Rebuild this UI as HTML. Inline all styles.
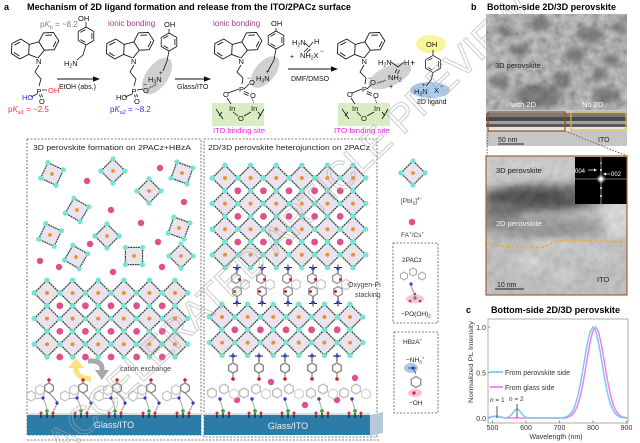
<!DOCTYPE html>
<html><head><meta charset="utf-8"><style>
html,body{margin:0;padding:0;background:#fff;}
svg{display:block;}
</style></head><body>
<svg width="640" height="443" viewBox="0 0 640 443" xmlns="http://www.w3.org/2000/svg">
<style>
text{font-family:"Liberation Sans",Arial,sans-serif;}
.h{paint-order:stroke;stroke:#fff;stroke-width:2.2px;stroke-linejoin:round;}
.c{font-size:7.5px;fill:#111;}
.ln{fill:none;stroke:#111;stroke-width:0.8;}
</style>
<defs>
 <filter id="bl3" x="-50%" y="-50%" width="200%" height="200%"><feGaussianBlur stdDeviation="3"/></filter>
 <filter id="bl5" x="-50%" y="-50%" width="200%" height="200%"><feGaussianBlur stdDeviation="5"/></filter>
 <filter id="bl1" x="-100%" y="-100%" width="300%" height="300%"><feGaussianBlur stdDeviation="1.2"/></filter>
 <filter id="nz" filterUnits="userSpaceOnUse" x="486" y="14" width="141" height="281"><feTurbulence type="fractalNoise" baseFrequency="0.13" numOctaves="2" seed="5"/><feColorMatrix type="matrix" values="1 0 0 0 0  1 0 0 0 0  1 0 0 0 0  0 0 0 0 1"/></filter>
 <clipPath id="cpT"><rect x="486" y="14" width="141" height="132"/></clipPath>
 <clipPath id="cpB"><rect x="486" y="156" width="141" height="139"/></clipPath>
 <g id="cbz" fill="none" stroke="#111" stroke-width="0.7">
  <path d="M0,0 L-6.47,-4.7 L-4,-12.3 L4,-12.3 L6.47,-4.7 Z"/>
  <path d="M-6.47,-4.7 L-14.29,-3.03 L-19.65,-8.96 L-17.19,-16.58 L-9.37,-18.25 L-4,-12.3"/>
  <path d="M6.47,-4.7 L14.29,-3.03 L19.65,-8.96 L17.19,-16.58 L9.37,-18.25 L4,-12.3"/>
  <path d="M-13.9,-5.3 L-17.4,-9.2 M-15.6,-14.9 L-10.4,-16"/>
  <path d="M13.9,-5.3 L17.4,-9.2 M15.6,-14.9 L10.4,-16"/>
 </g>
 <g id="bz" fill="none" stroke="#111" stroke-width="0.8">
  <polygon points="0,-9 7.8,-4.5 7.8,4.5 0,9 -7.8,4.5 -7.8,-4.5"/>
  <path d="M5.9,-3 L5.9,3 M-5.5,-3.6 L-0.6,-6.4 M-0.6,6.4 L-5.5,3.6"/>
 </g>
 <polygon id="hx" points="0,-5 4.33,-2.5 4.33,2.5 0,5 -4.33,2.5 -4.33,-2.5"/>
 <g id="oct">
  <polygon points="0,-12.8 12.8,0 0,12.8 -12.8,0" fill="#ebe2f0" stroke="#2e4d2e" stroke-width="1.3" stroke-dasharray="2 0.7"/>
  <circle cx="0" cy="-12.8" r="2.7" fill="#74e4d4"/>
  <circle cx="12.8" cy="0" r="2.7" fill="#74e4d4"/>
  <circle cx="0" cy="12.8" r="2.7" fill="#74e4d4"/>
  <circle cx="-12.8" cy="0" r="2.7" fill="#74e4d4"/>
  <circle cx="0" cy="0" r="2" fill="#ea9428"/>
 </g>
 <g id="mL">
  <use href="#hx" x="-16" y="-17" fill="none" stroke="#c4c4c4" stroke-width="1.2"/>
  <use href="#hx" x="-7" y="-23" fill="none" stroke="#c4c4c4" stroke-width="1.2"/>
  <path d="M-11.7,-14.5 L-4,-15 L-2.7,-20.5 M-4,-15 L-1,-8 L0,-3" fill="none" stroke="#b0b0b0" stroke-width="1.1"/>
  <use href="#hx" x="2" y="-25" fill="none" stroke="#8c8c8c" stroke-width="1.4"/>
  <path d="M2,-30 L2,-32 M2,-20 L7,-15 L10,-11" fill="none" stroke="#8c8c8c" stroke-width="1.2"/>
  <circle cx="2" cy="-33" r="1.7" fill="#d42020"/>
  <circle cx="-4" cy="-15" r="1.6" fill="#2f3fd8"/>
  <circle cx="10" cy="-10" r="1.6" fill="#2f3fd8"/>
  <path d="M10,-9 L6,-1" stroke="#111" stroke-width="0.9" stroke-dasharray="1 1"/>
  <path d="M-6,0 V5 M0,0 V5 M6,0 V5" stroke="#222" stroke-width="1.3"/>
  <circle cx="0" cy="-2" r="1.8" fill="#3aa83a"/>
  <circle cx="-6" cy="0" r="1.5" fill="#e03030"/>
  <circle cx="6" cy="0" r="1.5" fill="#e03030"/>
 </g>
 <g id="mR">
  <use href="#hx" x="-11" y="-20" fill="none" stroke="#bdbdbd" stroke-width="1.3"/>
  <use href="#hx" x="1" y="-24" fill="none" stroke="#bdbdbd" stroke-width="1.3"/>
  <use href="#hx" x="11" y="-19" fill="none" stroke="#cfcfcf" stroke-width="1.1"/>
  <path d="M-3,-13 L0,-3" stroke="#b0b0b0" stroke-width="1.2"/>
  <circle cx="-3" cy="-14" r="1.7" fill="#2f3fd8"/>
  <path d="M-6,0 V5 M0,0 V5 M6,0 V5" stroke="#222" stroke-width="1.3"/>
  <circle cx="0" cy="-2" r="1.9" fill="#3aa83a"/>
  <circle cx="-6" cy="0" r="1.5" fill="#e03030"/>
  <circle cx="6" cy="0" r="1.5" fill="#e03030"/>
 </g>
 <g id="mS">
  <path d="M-4,-18 H4 M0,-18 V-21 M0,-16 V-12" stroke="#222" stroke-width="0.9"/>
  <use href="#hx" x="-1" y="-7" fill="none" stroke="#999" stroke-width="1.4"/>
  <use href="#hx" x="0" y="6" fill="none" stroke="#999" stroke-width="1.4"/>
  <use href="#hx" x="8" y="-1" fill="none" stroke="#c6c6c6" stroke-width="1.2"/>
  <circle cx="2.5" cy="-6" r="1.5" fill="#d42020"/>
  <circle cx="-2.5" cy="6" r="1.5" fill="#d42020"/>
  <path d="M-4,18 H4 M0,18 V21 M0,16 V11" stroke="#222" stroke-width="0.9"/>
  <circle cx="0" cy="-17" r="1.8" fill="#2f3fd8"/>
  <circle cx="0" cy="17" r="1.8" fill="#2f3fd8"/>
 </g>
 <g id="mH">
  <path d="M-4,0 H4 M0,0 V-3 M0,2 V6" stroke="#222" stroke-width="0.9"/>
  <use href="#hx" x="0" y="12" fill="none" stroke="#8c8c8c" stroke-width="1.5"/>
  <path d="M0,17 V22" stroke="#8c8c8c" stroke-width="1.2"/>
  <circle cx="0" cy="0" r="1.8" fill="#2f3fd8"/>
  <circle cx="0" cy="23" r="1.8" fill="#d42020"/>
 </g>
</defs>

<!-- ===== Titles ===== -->
<text x="4" y="10" font-size="9" font-weight="bold">a</text>
<text x="27" y="10" font-size="9" font-weight="bold" textLength="324" lengthAdjust="spacingAndGlyphs">Mechanism of 2D ligand formation and release from the ITO/2PACz surface</text>
<text x="471" y="10" font-size="9" font-weight="bold">b</text>
<text x="487" y="10" font-size="9" font-weight="bold" textLength="129" lengthAdjust="spacingAndGlyphs">Bottom-side 2D/3D perovskite</text>

<!-- ===== Chemistry: molecule 1 ===== -->
<use href="#cbz" transform="translate(38,58) rotate(-15) scale(1.25)"/>
<text x="36" y="64" class="c h">N</text>
<path class="ln" d="M39,65 L35,72 L41,79 L39,86 M42,90 L47,90 M37,94 L31,97 M39.5,94.5 L40.5,97.5 M41.5,94 L42.5,97"/>
<text x="36.5" y="94" class="c">P</text>
<text x="48" y="93" class="c" style="fill:#f03030">OH</text>
<text x="22" y="100" class="c" style="fill:#3030e0">HO</text>
<text x="39" y="104" class="c">O</text>
<text x="8" y="112" font-size="8" fill="#f33">p<tspan font-style="italic">K</tspan><tspan font-size="5.5" dy="2">a1</tspan><tspan dy="-2"> = ~2.5</tspan></text>
<text x="40" y="27" font-size="8" fill="#808080">p<tspan font-style="italic">K</tspan><tspan font-size="5.5" dy="2">b</tspan><tspan dy="-2"> = ~8.2</tspan></text>
<use href="#bz" x="86" y="36"/>
<path class="ln" d="M86,27 L86,22 M86,45 L83,55 L77,60"/>
<text x="78" y="21" class="c">OH</text>
<text x="64" y="66" class="c">H<tspan font-size="5" dy="1.5">2</tspan><tspan dy="-1.5">N</tspan></text>
<path d="M57,79 L95,79" stroke="#111" stroke-width="0.9"/>
<polygon points="100,79 93,76.3 93,81.7" fill="#111"/>
<text x="59" y="89" font-size="7" fill="#111">EtOH (abs.)</text>

<!-- molecule 2 -->
<ellipse cx="157" cy="76" rx="21" ry="11" transform="rotate(-55 157 76)" fill="#d0d0d0"/>
<text x="108" y="26" font-size="8" fill="#9b3c8c">ionic bonding</text>
<use href="#cbz" transform="translate(133,58) rotate(-15) scale(1.25)"/>
<text x="131" y="64" class="c h">N</text>
<path class="ln" d="M134,65 L130,72 L136,79 L134,86 M137,90 L143,89 M132,94 L125,97 M134.5,94.5 L135.5,97.5 M136.5,94 L137.5,97"/>
<text x="131.5" y="94" class="c">P</text>
<text x="143" y="93" class="c">O</text>
<text x="143" y="87" font-size="7">−</text>
<path d="M149,89 l1.5,-2.5 l1.5,1 l1.5,-2.5 l1.5,1 l1.5,-2.5" fill="none" stroke="#555" stroke-width="0.7"/>
<text x="116" y="100" class="c">HO</text>
<text x="134" y="104" class="c">O</text>
<use href="#bz" x="169" y="42"/>
<path class="ln" d="M169,33 L169,29 M169,51 L167,61 L163,71"/>
<text x="164" y="27" class="c">OH</text>
<text x="148" y="82" class="c">H<tspan font-size="5" dy="1.5">3</tspan><tspan dy="-1.5">N</tspan></text>
<text x="159" y="75" font-size="6">+</text>
<text x="110" y="112" font-size="8" fill="#3333ff">p<tspan font-style="italic">K</tspan><tspan font-size="5.5" dy="2">a2</tspan><tspan dy="-2"> = ~8.2</tspan></text>
<path d="M175,79 L206,79" stroke="#111" stroke-width="0.9"/>
<polygon points="211,79 204,76.3 204,81.7" fill="#111"/>
<text x="177" y="89" font-size="7" fill="#111">Glass/ITO</text>

<!-- molecule 3 -->
<rect x="212" y="103" width="52" height="23" fill="#d9edc4"/>
<ellipse cx="265" cy="72" rx="19" ry="10" transform="rotate(-50 265 72)" fill="#d0d0d0"/>
<text x="213" y="26" font-size="8" fill="#9b3c8c">ionic bonding</text>
<use href="#cbz" transform="translate(241,58) rotate(-15) scale(1.25)"/>
<text x="238.5" y="64" class="c h">N</text>
<path class="ln" d="M241,65 L237,72 L243,78 L242,84 M239,89 L228,93 M244,89 L249,84 M244,91.5 L249,93.5 M243.5,93.5 L248.5,95.5 M227,98 L231,104 M233,112 L238,116 M244,116 L251,112 M216,109 L223,119 M219,116 L222,112 M264,109 L258,119 M261,116 L258,112"/>
<path d="M252,98 L254,104" stroke="#111" stroke-width="0.8" stroke-dasharray="1 1"/>
<text x="239" y="92" class="c">P</text>
<text x="223" y="97" class="c">O</text>
<text x="250" y="98" class="c">O</text>
<text x="249" y="85" class="c">O</text>
<text x="247" y="80" font-size="6">−</text>
<text x="229" y="111" class="c">In</text>
<text x="251" y="111" class="c">In</text>
<text x="238" y="121" class="c">O</text>
<use href="#bz" x="276" y="40"/>
<path class="ln" d="M276,31 L276,28 M276,49 L274,60 L268,71"/>
<text x="271" y="26" class="c">OH</text>
<text x="256" y="81" class="c">H<tspan font-size="5" dy="1.5">3</tspan><tspan dy="-1.5">N</tspan></text>
<text x="266" y="74" font-size="6">+</text>
<text x="213" y="133" font-size="7" fill="#ee22ee" textLength="52" lengthAdjust="spacingAndGlyphs">ITO binding site</text>

<!-- arrow 3 + reagent -->
<text x="292" y="45" class="c">H<tspan font-size="5" dy="1.5">2</tspan><tspan dy="-1.5">N</tspan></text>
<text x="314" y="44" class="c">H</text>
<path class="ln" d="M305,43 L309,47 L313,42 M308,48 L304,52 M310.5,49 L306.5,53"/>
<text x="290" y="59" font-size="7">+</text>
<text x="300" y="58" class="c">NH<tspan font-size="5" dy="1.5">2</tspan><tspan dy="-1.5">X</tspan></text>
<text x="320" y="53" font-size="6">−</text>
<path d="M288,69 L333,69" stroke="#111" stroke-width="0.9"/>
<polygon points="338,69 331,66.3 331,71.7" fill="#111"/>
<text x="291" y="81" font-size="7" fill="#111">DMF/DMSO</text>

<!-- molecule 4 -->
<rect x="338" y="103" width="52" height="23" fill="#d9edc4"/>
<ellipse cx="390" cy="76" rx="23" ry="10" transform="rotate(-25 390 76)" fill="#d0d0d0"/>
<use href="#cbz" transform="translate(364,58) rotate(-15) scale(1.25)"/>
<text x="361.5" y="64" class="c h">N</text>
<path class="ln" d="M364,65 L360,72 L366,78 L365,84 M362,89 L352,93 M367,89 L371,85 M367,91.5 L372,93.5 M366.5,93.5 L371.5,95.5 M351,98 L355,104 M357,112 L361,116 M367,116 L374,112 M342,109 L349,119 M345,116 L348,112 M388,109 L382,119 M385,116 L382,112"/>
<path d="M375,98 L377,104" stroke="#111" stroke-width="0.8" stroke-dasharray="1 1"/>
<text x="362" y="92" class="c">P</text>
<text x="347" y="97" class="c">O</text>
<text x="373" y="98" class="c">O</text>
<text x="370" y="85" class="c">O</text>
<text x="368" y="80" font-size="6">−</text>
<text x="352" y="111" class="c">In</text>
<text x="374" y="111" class="c">In</text>
<text x="361" y="121" class="c">O</text>
<path d="M377,84 l1.5,-2 l1.5,1 l1.5,-2 l1.5,1 l1.5,-2 l1.5,1" fill="none" stroke="#555" stroke-width="0.7"/>
<text x="378" y="65" class="c">H<tspan font-size="5" dy="1.5">2</tspan><tspan dy="-1.5">N</tspan></text>
<text x="404" y="65" class="c">H</text>
<path class="ln" d="M391,62 L398,67 L404,62 M397,69 L395,73 M399.5,70 L397.5,74"/>
<text x="388" y="80" class="c">NH<tspan font-size="5" dy="1.5">2</tspan></text>
<text x="389" y="89" font-size="7">+</text>
<text x="334" y="133" font-size="7" fill="#ee22ee" textLength="56" lengthAdjust="spacingAndGlyphs">ITO binding site</text>

<!-- 2D ligand -->
<text x="410" y="66" font-size="9">+</text>
<ellipse cx="431" cy="44" rx="15" ry="9" fill="#fbf59a"/>
<ellipse cx="430" cy="90" rx="20" ry="8" fill="#a9cdf0"/>
<text x="426" y="47" class="c">OH</text>
<use href="#bz" transform="translate(433,64) scale(0.95)"/>
<path class="ln" d="M433,55 L433,50 M433,73 L431,80 L426,86"/>
<text x="414" y="94" class="c">H<tspan font-size="5" dy="1.5">3</tspan><tspan dy="-1.5">N</tspan></text>
<text x="422" y="87" font-size="6">+</text>
<text x="434" y="93" class="c">X</text>
<text x="440" y="88" font-size="6">−</text>
<text x="417" y="104" font-size="7" fill="#111">2D ligand</text>

<!-- ===== Lower panel a ===== -->
<rect x="27" y="139" width="174" height="296" fill="none" stroke="#555" stroke-width="0.8" stroke-dasharray="2 1.5"/>
<rect x="204" y="139" width="173" height="298" fill="none" stroke="#555" stroke-width="0.8" stroke-dasharray="2 1.5"/>
<path d="M27,440 H380" stroke="#555" stroke-width="0.8" stroke-dasharray="2 1.5"/>
<text x="33" y="150" font-size="7" fill="#222" textLength="158" lengthAdjust="spacingAndGlyphs">3D perovskite formation on 2PACz+HBzA</text>
<text x="208" y="150" font-size="7" fill="#222" textLength="162" lengthAdjust="spacingAndGlyphs">2D/3D perovskite heterojunction on 2PACz</text>

<!-- scattered octahedra -->
<use href="#oct" transform="translate(52,174) rotate(-20) scale(.95)"/>
<use href="#oct" transform="translate(113,171) scale(.95)"/>
<use href="#oct" transform="translate(182,173) rotate(-25) scale(.95)"/>
<use href="#oct" transform="translate(149,191) scale(.95)"/>
<use href="#oct" transform="translate(77,210) rotate(-15) scale(.95)"/>
<use href="#oct" transform="translate(50,235) rotate(-20) scale(.95)"/>
<use href="#oct" transform="translate(107,236) scale(.95)"/>
<use href="#oct" transform="translate(179,228) rotate(-25) scale(.95)"/>
<use href="#oct" transform="translate(76,257) rotate(-15) scale(.95)"/>
<use href="#oct" transform="translate(134,256) rotate(45) scale(.95)"/>
<use href="#oct" transform="translate(181,256) scale(.95)"/>
<g fill="#e0508a">
 <circle cx="87" cy="181" r="3.2"/><circle cx="160" cy="168" r="3.2"/><circle cx="184" cy="202" r="3.2"/>
 <circle cx="111" cy="210" r="3.2"/><circle cx="141" cy="223" r="3.2"/><circle cx="158" cy="242" r="3.2"/>
 <circle cx="90" cy="244" r="3.2"/><circle cx="40" cy="261" r="3.2"/><circle cx="59" cy="267" r="3.2"/>
 <circle cx="113" cy="272" r="3.2"/><circle cx="162" cy="267" r="3.2"/>
</g>

<!-- left lattice -->
<g>
 <use href="#oct" x="47" y="293"/><use href="#oct" x="72.6" y="293"/><use href="#oct" x="98.2" y="293"/><use href="#oct" x="123.8" y="293"/><use href="#oct" x="149.4" y="293"/><use href="#oct" x="175" y="293"/>
 <use href="#oct" x="47" y="318.6"/><use href="#oct" x="72.6" y="318.6"/><use href="#oct" x="98.2" y="318.6"/><use href="#oct" x="123.8" y="318.6"/><use href="#oct" x="149.4" y="318.6"/><use href="#oct" x="175" y="318.6"/>
 <use href="#oct" x="47" y="344.2"/><use href="#oct" x="72.6" y="344.2"/><use href="#oct" x="98.2" y="344.2"/><use href="#oct" x="123.8" y="344.2"/><use href="#oct" x="149.4" y="344.2"/><use href="#oct" x="175" y="344.2"/>
</g>
<g fill="#e0508a">
 <circle cx="59.8" cy="305.8" r="3.4"/><circle cx="85.4" cy="305.8" r="3.4"/><circle cx="111" cy="305.8" r="3.4"/><circle cx="136.6" cy="305.8" r="3.4"/><circle cx="162.2" cy="305.8" r="3.4"/>
 <circle cx="59.8" cy="331.4" r="3.4"/><circle cx="85.4" cy="331.4" r="3.4"/><circle cx="111" cy="331.4" r="3.4"/><circle cx="136.6" cy="331.4" r="3.4"/><circle cx="162.2" cy="331.4" r="3.4"/>
 <circle cx="59.8" cy="357" r="3.4"/><circle cx="85.4" cy="357" r="3.4"/><circle cx="111" cy="357" r="3.4"/><circle cx="136.6" cy="357" r="3.4"/><circle cx="162.2" cy="357" r="3.4"/>
</g>

<!-- cation exchange arrows -->
<path d="M91,379 Q75,378 76,367" fill="none" stroke="#f6e27e" stroke-width="5"/>
<polygon points="68,368 84,368 76,358" fill="#f6e27e"/>
<path d="M88,361 Q103,360 102,370" fill="none" stroke="#a8a8a8" stroke-width="5"/>
<polygon points="95,370 109,370 102,380" fill="#a8a8a8"/>
<text x="120" y="371" font-size="7" fill="#444">cation exchange</text>

<!-- left molecules and bar -->
<rect x="27" y="413" width="174" height="3" fill="#d9dfe5"/>
<rect x="27" y="415" width="174" height="20" fill="#2c7ca7"/>
<use href="#mL" x="47" y="413"/><use href="#mL" x="81" y="413"/><use href="#mL" x="115" y="413"/><use href="#mL" x="149" y="413"/><use href="#mL" x="183" y="413"/>
<text x="114" y="428" font-size="9" fill="#e8eef5" text-anchor="middle">Glass/ITO</text>

<!-- right top lattice -->
<g>
 <use href="#oct" x="225" y="178"/><use href="#oct" x="250.6" y="178"/><use href="#oct" x="276.2" y="178"/><use href="#oct" x="301.8" y="178"/><use href="#oct" x="327.4" y="178"/><use href="#oct" x="353" y="178"/>
 <use href="#oct" x="225" y="203.6"/><use href="#oct" x="250.6" y="203.6"/><use href="#oct" x="276.2" y="203.6"/><use href="#oct" x="301.8" y="203.6"/><use href="#oct" x="327.4" y="203.6"/><use href="#oct" x="353" y="203.6"/>
 <use href="#oct" x="225" y="229.2"/><use href="#oct" x="250.6" y="229.2"/><use href="#oct" x="276.2" y="229.2"/><use href="#oct" x="301.8" y="229.2"/><use href="#oct" x="327.4" y="229.2"/><use href="#oct" x="353" y="229.2"/>
 <use href="#oct" x="225" y="254.8"/><use href="#oct" x="250.6" y="254.8"/><use href="#oct" x="276.2" y="254.8"/><use href="#oct" x="301.8" y="254.8"/><use href="#oct" x="327.4" y="254.8"/><use href="#oct" x="353" y="254.8"/>
</g>
<g fill="#e0508a">
 <circle cx="237.8" cy="190.8" r="3.4"/><circle cx="263.4" cy="190.8" r="3.4"/><circle cx="289" cy="190.8" r="3.4"/><circle cx="314.6" cy="190.8" r="3.4"/><circle cx="340.2" cy="190.8" r="3.4"/>
 <circle cx="237.8" cy="216.4" r="3.4"/><circle cx="263.4" cy="216.4" r="3.4"/><circle cx="289" cy="216.4" r="3.4"/><circle cx="314.6" cy="216.4" r="3.4"/><circle cx="340.2" cy="216.4" r="3.4"/>
 <circle cx="237.8" cy="242" r="3.4"/><circle cx="263.4" cy="242" r="3.4"/><circle cx="289" cy="242" r="3.4"/><circle cx="314.6" cy="242" r="3.4"/><circle cx="340.2" cy="242" r="3.4"/>
</g>

<!-- stacked molecules -->
<use href="#mS" x="237" y="285.5"/><use href="#mS" x="262" y="285.5"/><use href="#mS" x="288" y="285.5"/><use href="#mS" x="313" y="285.5"/><use href="#mS" x="338" y="285.5"/>
<path d="M345,284 H348" stroke="#555" stroke-width="0.6" stroke-dasharray="1 1"/>
<text x="348" y="287" font-size="7" fill="#444">Oxygen-Pi</text>
<text x="355" y="297" font-size="7" fill="#444">stacking</text>

<!-- right second lattice -->
<g>
 <use href="#oct" x="222" y="317"/><use href="#oct" x="247.6" y="317"/><use href="#oct" x="273.2" y="317"/><use href="#oct" x="298.8" y="317"/><use href="#oct" x="324.4" y="317"/><use href="#oct" x="350" y="317"/>
 <use href="#oct" x="222" y="342.6"/><use href="#oct" x="247.6" y="342.6"/><use href="#oct" x="273.2" y="342.6"/><use href="#oct" x="298.8" y="342.6"/><use href="#oct" x="324.4" y="342.6"/><use href="#oct" x="350" y="342.6"/>
</g>
<g fill="#e0508a">
 <circle cx="234.8" cy="329.8" r="3.4"/><circle cx="260.4" cy="329.8" r="3.4"/><circle cx="286" cy="329.8" r="3.4"/><circle cx="311.6" cy="329.8" r="3.4"/><circle cx="337.2" cy="329.8" r="3.4"/>
</g>
<use href="#mH" x="233" y="356"/><use href="#mH" x="259" y="356"/><use href="#mH" x="285" y="356"/><use href="#mH" x="312" y="356"/><use href="#mH" x="337" y="356"/>
<g fill="#e0508a">
 <circle cx="271" cy="382" r="3.2"/><circle cx="355" cy="378" r="3.2"/><circle cx="237" cy="400" r="3.2"/><circle cx="305" cy="405" r="3.2"/><circle cx="337" cy="400" r="3.2"/>
</g>
<rect x="204" y="413" width="166" height="3" fill="#d9dfe5"/>
<rect x="204" y="415" width="166" height="20" fill="#2c7ca7"/>
<polygon points="370,415 383,412 383,433 370,436" fill="#b7cadb"/>
<use href="#mR" x="223" y="413"/><use href="#mR" x="255" y="413"/><use href="#mR" x="288" y="413"/><use href="#mR" x="322" y="413"/><use href="#mR" x="355" y="413"/>
<text x="288" y="429" font-size="9" fill="#e8eef5" text-anchor="middle">Glass/ITO</text>

<!-- legend column -->
<use href="#oct" transform="translate(413,173) scale(.95)"/>
<text x="401" y="203" font-size="6.5" fill="#333">[PbI<tspan font-size="4.5" dy="1.5">6</tspan><tspan dy="-1.5">]</tspan><tspan font-size="4.5" dy="-3">4−</tspan></text>
<circle cx="412" cy="222" r="3.3" fill="#e0508a"/>
<text x="401" y="237" font-size="6.5" fill="#333">FA<tspan font-size="4.5" dy="-2.5">+</tspan><tspan dy="2.5">/Cs</tspan><tspan font-size="4.5" dy="-2.5">+</tspan></text>
<rect x="393" y="243" width="45" height="80" fill="none" stroke="#555" stroke-width="0.8" stroke-dasharray="2 1.5"/>
<text x="402" y="262" font-size="6.5" fill="#222">2PACz</text>
<use href="#hx" transform="translate(404,276) scale(.8)" fill="none" stroke="#aaa" stroke-width="1.3"/>
<use href="#hx" transform="translate(413,272) scale(.8)" fill="none" stroke="#aaa" stroke-width="1.3"/>
<use href="#hx" transform="translate(422,276) scale(.8)" fill="none" stroke="#aaa" stroke-width="1.3"/>
<ellipse cx="415" cy="299" rx="9" ry="4.5" fill="#f6c2dd"/>
<path d="M411,285 L415,297" stroke="#aaa" stroke-width="1.2"/>
<circle cx="411" cy="284" r="1.6" fill="#2f3fd8"/>
<circle cx="415" cy="298" r="1.7" fill="#3aa83a"/>
<circle cx="410" cy="301" r="1.3" fill="#e03030"/><circle cx="420" cy="301" r="1.3" fill="#e03030"/><circle cx="415" cy="294" r="1.2" fill="#e03030"/>
<text x="401" y="316" font-size="6.5" fill="#222">−PO(OH)<tspan font-size="4.5" dy="1.5">2</tspan></text>
<rect x="394" y="332" width="44" height="81" fill="none" stroke="#555" stroke-width="0.8" stroke-dasharray="2 1.5"/>
<text x="403" y="344" font-size="6.5" fill="#222">HBzA<tspan font-size="4.5" dy="-2.5">+</tspan></text>
<text x="406" y="362" font-size="6.5" fill="#222">−NH<tspan font-size="4.5" dy="1.5">3</tspan><tspan font-size="4.5" dy="-4">+</tspan></text>
<ellipse cx="411" cy="368" rx="7" ry="5" fill="#a9c9ef"/>
<path d="M408,368 H416 M413,368 L416,374" stroke="#333" stroke-width="0.8"/>
<circle cx="413" cy="368" r="1.6" fill="#2f3fd8"/>
<use href="#hx" transform="translate(416,382) scale(1.1)" fill="none" stroke="#999" stroke-width="1.3"/>
<ellipse cx="415" cy="393" rx="7" ry="4" fill="#f6c2dd"/>
<circle cx="414" cy="393" r="1.6" fill="#d42020"/>
<text x="409" y="405" font-size="6.5" fill="#222">−OH</text>

<!-- ===== Panel b ===== -->
<g clip-path="url(#cpT)">
 <rect x="486" y="14" width="141" height="132" fill="#a4a4a4"/>
 <rect x="486" y="14" width="141" height="100" filter="url(#nz)" opacity=".45"/>
 <g filter="url(#bl3)" fill="#4e4e4e" opacity=".55">
  <ellipse cx="505" cy="30" rx="8" ry="6"/><ellipse cx="540" cy="24" rx="10" ry="7"/><ellipse cx="590" cy="35" rx="12" ry="8"/>
  <ellipse cx="520" cy="50" rx="9" ry="6"/><ellipse cx="575" cy="55" rx="10" ry="8"/><ellipse cx="612" cy="60" rx="8" ry="6"/>
  <ellipse cx="500" cy="82" rx="10" ry="6"/><ellipse cx="538" cy="96" rx="24" ry="12"/><ellipse cx="562" cy="80" rx="10" ry="8"/>
  <ellipse cx="606" cy="96" rx="14" ry="8"/><ellipse cx="600" cy="74" rx="8" ry="6"/><ellipse cx="620" cy="28" rx="7" ry="6"/>
 </g>
 <rect x="486" y="110" width="141" height="3" fill="#c8c8c8"/>
 <rect x="486" y="113" width="141" height="4" fill="#7a7a7a"/>
 <rect x="486" y="117" width="141" height="4" fill="#4a4a4a"/>
 <rect x="486" y="121" width="141" height="3" fill="#a0a0a0"/>
 <rect x="486" y="124" width="141" height="3" fill="#5a5a5a"/>
 <rect x="486" y="127" width="141" height="4" fill="#e6e6e6"/>
 <rect x="486" y="131" width="141" height="15" fill="#c6c6c6"/>
</g>
<text x="495" y="68" font-size="7.5" fill="#222">3D perovskite</text>
<text x="511" y="107" font-size="7.5" fill="#fff">with 2D</text>
<text x="582" y="107" font-size="7.5" fill="#fff">No 2D</text>
<rect x="488" y="112" width="77" height="19" fill="none" stroke="#9a4e1e" stroke-width="1.2"/>
<rect x="571" y="112" width="55" height="18" fill="none" stroke="#e6b437" stroke-width="1.2"/>
<text x="498" y="142" font-size="7" fill="#222">50 nm</text>
<rect x="498" y="143.5" width="26" height="1" fill="#222"/>
<text x="598" y="142" font-size="7" fill="#222">ITO</text>
<path d="M488,131 L487,156 M565,131 L627,156" stroke="#a0522d" stroke-width="1" stroke-dasharray="1.5 1.5"/>

<g clip-path="url(#cpB)">
 <rect x="486" y="156" width="141" height="139" fill="#bdbdbd"/>
 <rect x="486" y="156" width="141" height="30" fill="#cbcbcb"/>
 <g filter="url(#bl5)">
  <ellipse cx="540" cy="198" rx="58" ry="13" fill="#3a3a3a"/>
  <ellipse cx="588" cy="191" rx="28" ry="9" fill="#555"/>
  <ellipse cx="500" cy="214" rx="22" ry="10" fill="#6a6a6a"/>
  <ellipse cx="545" cy="228" rx="62" ry="10" fill="#8c8c8c"/>
  <ellipse cx="617" cy="215" rx="14" ry="24" fill="#dcdcdc"/>
  <ellipse cx="560" cy="246" rx="30" ry="3" fill="#e8e8e8"/>
  <ellipse cx="530" cy="262" rx="14" ry="6" fill="#e4e4e4"/>
  <ellipse cx="562" cy="274" rx="12" ry="5" fill="#dcdcdc"/>
  <ellipse cx="603" cy="255" rx="18" ry="6" fill="#d0d0d0"/>
 </g>
 <rect x="486" y="156" width="141" height="139" filter="url(#nz)" opacity=".18"/>
 <rect x="575" y="157" width="52" height="47" fill="#000"/>
 <path d="M601,157 V204 M575,179 H627" stroke="#ddd" stroke-width="0.6"/>
 <circle cx="601" cy="179" r="3" fill="#fff" filter="url(#bl1)"/>
 <circle cx="601" cy="179" r="1.5" fill="#fff"/>
 <circle cx="601" cy="170" r="1" fill="#fff"/><circle cx="601" cy="188" r="1" fill="#fff"/><circle cx="601" cy="196" r="1" fill="#fff"/><circle cx="601" cy="163" r="0.8" fill="#fff"/>
 <text x="575" y="173" font-size="6" fill="#fff">004</text>
 <path d="M588,170 H595" stroke="#fff" stroke-width="0.7"/><polygon points="597,170 594,168.5 594,171.5" fill="#fff"/>
 <text x="611" y="176" font-size="6" fill="#fff">002</text>
 <path d="M610,174 H605" stroke="#fff" stroke-width="0.7"/><polygon points="603,174 606,172.5 606,175.5" fill="#fff"/>
</g>
<path d="M486,244 Q520,249 545,247 Q555,241 566,240 L627,242" fill="none" stroke="#f2aa20" stroke-width="1.5" stroke-dasharray="3 2"/>
<rect x="486" y="156" width="141" height="139" fill="none" stroke="#a0643c" stroke-width="1.2"/>
<text x="496" y="173" font-size="7.5" fill="#222">3D perovskite</text>
<text x="496" y="226" font-size="7.5" fill="#f4f4f4">2D perovskite</text>
<text x="597" y="282" font-size="7.5" fill="#222">ITO</text>
<text x="497" y="287" font-size="7" fill="#222">10 nm</text>
<rect x="495" y="288.5" width="29" height="1" fill="#222"/>

<!-- ===== Panel c ===== -->
<text x="466" y="313" font-size="9" font-weight="bold">c</text>
<text x="491" y="313" font-size="9" font-weight="bold" textLength="129" lengthAdjust="spacingAndGlyphs">Bottom-side 2D/3D perovskite</text>
<rect x="488" y="319" width="140" height="104" fill="none" stroke="#999" stroke-width="0.8"/>
<path d="M488,327 h2.5 M488,372.5 h2.5 M488,418 h2.5 M492.5,423 v-2.5 M526,423 v-2.5 M559.5,423 v-2.5 M593,423 v-2.5 M626.5,423 v-2.5" stroke="#777" stroke-width="0.8"/>
<g font-size="7" fill="#333">
 <text x="486" y="330" text-anchor="end">1.0</text>
 <text x="486" y="375.5" text-anchor="end">0.5</text>
 <text x="486" y="421" text-anchor="end">0.0</text>
 <text x="492.5" y="430" text-anchor="middle">500</text>
 <text x="526" y="430" text-anchor="middle">600</text>
 <text x="559.5" y="430" text-anchor="middle">700</text>
 <text x="593" y="430" text-anchor="middle">800</text>
 <text x="626.5" y="430" text-anchor="middle">900</text>
 <text x="556" y="439" text-anchor="middle">Wavelength (nm)</text>
</g>
<text transform="translate(473,362) rotate(-90)" font-size="6.5" fill="#333" text-anchor="middle" textLength="82" lengthAdjust="spacingAndGlyphs">Normalized PL Intensity</text>
<polyline fill="none" stroke="#f27ef0" stroke-width="1.5" points="489,417 495,416.5 500,417 505,418 565.5,418 568.5,417 571.5,415.4 574.5,412 577.5,405.7 580.5,395.3 583.5,380.6 586.5,362.8 589.5,345.2 592.5,331.9 595.5,327 598.5,331.9 601.5,345.2 604.5,362.8 607.5,380.6 610.5,395.3 613.5,405.7 616.5,412 619.5,415.4 622.5,417 625.5,417.6 628,418"/>
<polyline fill="none" stroke="#7cc8f0" stroke-width="1.5" points="489,417.5 493,416.5 497,416 501,417 505,418 509,417 512,414 515,410 517,409 519,410 522,414 525,417 528,418 560,418 563,417.6 566,417 569,415.4 572,412 575,405.7 578,395.3 581,380.6 584,362.8 587,345.2 590,331.9 593,327 596,331.9 599,345.2 602,362.8 605,380.6 608,395.3 611,405.7 614,412 617,415.4 620,417 623,417.6 628,418"/>
<path d="M490,372 H503" stroke="#7cc8f0" stroke-width="1.8"/>
<text x="505" y="375" font-size="7" fill="#333">From perovskite side</text>
<path d="M490,387 H503" stroke="#f27ef0" stroke-width="1.8"/>
<text x="505" y="390" font-size="7" fill="#333">From glass side</text>
<text x="490" y="402" font-size="6.5" fill="#333"><tspan font-style="italic">n</tspan> = 1</text>
<text x="509" y="401" font-size="6.5" fill="#333"><tspan font-style="italic">n</tspan> = 2</text>
<path d="M497,406 V418 M517,404 V418" stroke="#333" stroke-width="0.8"/>

<!-- watermark -->
<text transform="translate(63,458) rotate(-43.5)" font-size="40" fill="none" stroke="#a8a8a8" stroke-width="1.2" opacity="0.5" textLength="648" lengthAdjust="spacingAndGlyphs">ACCELERATED ARTICLE PREVIEW</text>
</svg>
</body></html>
